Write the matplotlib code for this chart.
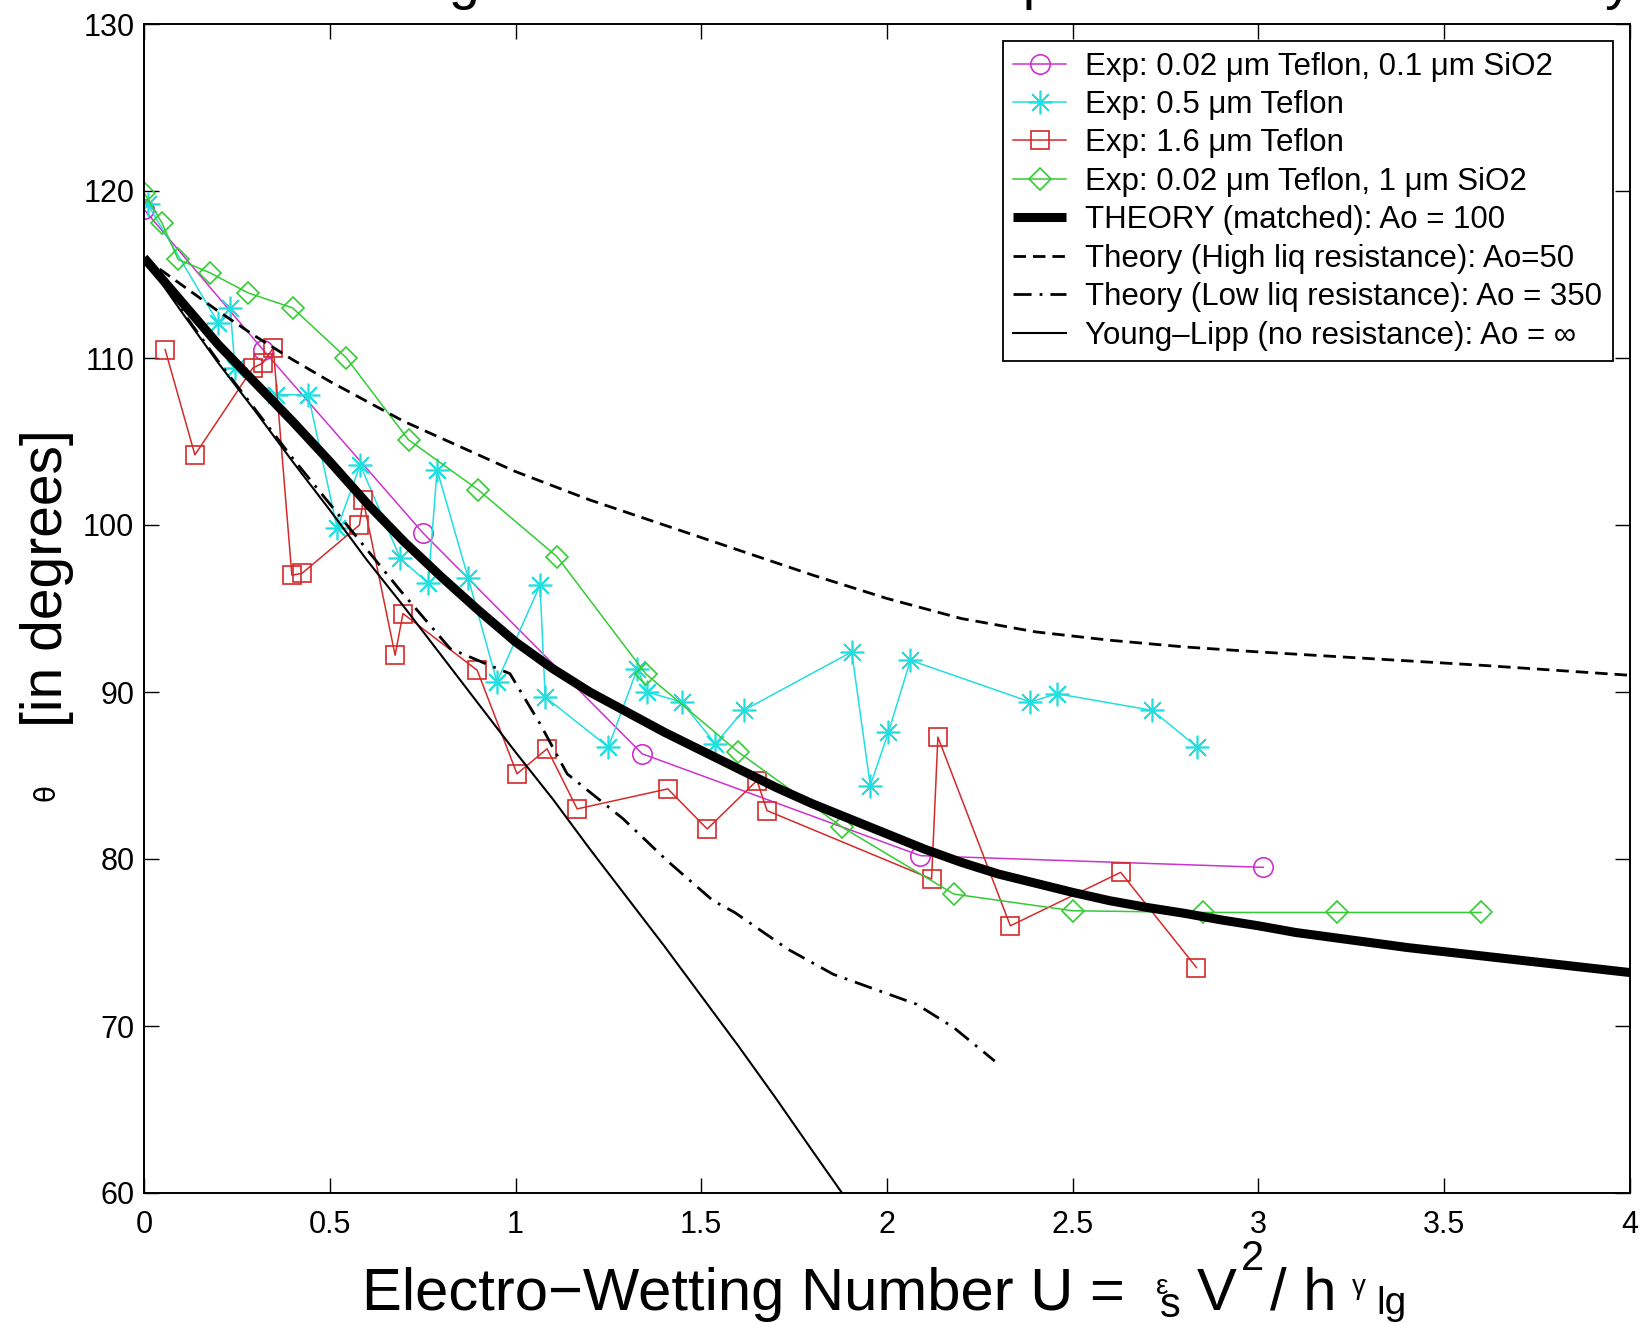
import matplotlib
matplotlib.use("Agg")
import matplotlib.pyplot as plt

# ---------------- data ----------------
mag_x = [0.0, 0.32, 0.752, 1.341, 2.09, 3.013]
mag_y = [118.9, 110.5, 99.5, 86.3, 80.2, 79.5]

cyan_x = [0.01, 0.2, 0.232, 0.245, 0.355, 0.442, 0.52, 0.582, 0.69, 0.765, 0.789, 0.873,
          0.95, 1.066, 1.08, 1.25, 1.328, 1.354, 1.447, 1.538, 1.614, 1.905, 1.955,
          2.004, 2.063, 2.386, 2.457, 2.714, 2.835]
cyan_y = [119.2, 112.1, 113.0, 109.4, 107.8, 107.8, 99.8, 103.6, 98.0, 96.5, 103.3, 96.8,
          90.6, 96.4, 89.7, 86.7, 91.4, 90.0, 89.4, 86.9, 88.9, 92.4, 84.4,
          87.6, 91.9, 89.4, 89.9, 88.9, 86.7]

red_x = [0.057, 0.137, 0.293, 0.32, 0.348, 0.398, 0.425, 0.58, 0.59, 0.676, 0.697, 0.897,
         1.004, 1.085, 1.166, 1.41, 1.516, 1.65, 1.677, 2.12, 2.137, 2.332, 2.629, 2.833]
red_y = [110.5, 104.2, 109.4, 109.7, 110.6, 97.0, 97.1, 100.0, 101.5, 92.2, 94.7, 91.3,
         85.1, 86.6, 83.0, 84.2, 81.8, 84.7, 82.9, 78.8, 87.3, 76.0, 79.2, 73.5]

green_x = [0.0, 0.048, 0.092, 0.178, 0.28, 0.40, 0.545, 0.712, 0.9, 1.112, 1.35, 1.6,
           1.88, 2.18, 2.5, 2.85, 3.21, 3.6]
green_y = [119.9, 118.1, 115.9, 115.1, 113.9, 113.0, 110.0, 105.1, 102.1, 98.1, 91.1, 86.4,
           81.9, 77.9, 76.9, 76.8, 76.8, 76.8]

# THEORY (matched), Ao = 100
theory_x = [0.0, 0.1, 0.2, 0.3, 0.4, 0.5, 0.6, 0.7, 0.8, 0.9, 1.0, 1.1, 1.2, 1.3, 1.4,
            1.5, 1.6, 1.7, 1.8, 1.9, 2.0, 2.1, 2.2, 2.3, 2.4, 2.5, 2.6, 2.7, 2.8, 2.9,
            3.0, 3.1, 3.2, 3.3, 3.4, 3.5, 3.6, 3.7, 3.8, 3.9, 4.0]
theory_y = [116.0, 113.4, 110.8, 108.5, 106.2, 103.8, 101.3, 99.0, 96.9, 94.9, 93.0, 91.4,
            90.0, 88.8, 87.6, 86.5, 85.4, 84.3, 83.3, 82.4, 81.5, 80.6, 79.8, 79.1, 78.55,
            78.0, 77.5, 77.1, 76.75, 76.35, 76.0, 75.6, 75.3, 75.0, 74.7, 74.45, 74.2,
            73.95, 73.7, 73.45, 73.2]

# Theory (high liquid resistance), Ao = 50
high_x = [0.0, 0.1, 0.2, 0.3, 0.4, 0.5, 0.6, 0.7, 0.8, 0.9, 1.0, 1.2, 1.4, 1.6, 1.8,
          2.0, 2.2, 2.4, 2.6, 2.8, 3.0, 3.3, 3.6, 4.0]
high_y = [116.0, 114.4, 112.8, 111.3, 109.9, 108.6, 107.4, 106.2, 105.2, 104.2, 103.2,
          101.5, 100.0, 98.5, 97.0, 95.6, 94.4, 93.6, 93.1, 92.7, 92.4, 92.0, 91.6, 91.0]

# Theory (low liquid resistance), Ao = 350
low_x = [0.0, 0.2, 0.4, 0.55, 0.689, 0.824, 0.93, 0.985, 1.066, 1.139, 1.29, 1.408,
         1.532, 1.59, 1.733, 1.855, 1.98, 2.08, 2.18, 2.29]
low_y = [116.0, 109.8, 104.0, 99.9, 96.1, 92.6, 91.6, 91.1, 88.1, 85.1, 82.4, 79.9,
         77.5, 76.8, 74.6, 73.1, 72.1, 71.3, 69.9, 67.9]

# Young-Lipp (no resistance)
yl_x = [0.0, 0.1, 0.2, 0.3, 0.4, 0.5, 0.6, 0.7, 0.8, 0.9, 1.0, 1.1, 1.2, 1.3, 1.4, 1.5,
        1.6, 1.7, 1.8, 1.879]
yl_y = [116.0, 112.8, 109.7, 106.8, 103.8, 100.9, 97.9, 95.1, 92.2, 89.3, 86.4, 83.6,
        80.6, 77.7, 74.8, 71.8, 68.8, 65.7, 62.5, 60.0]

labels = ["Exp: 0.02 \u03bcm Teflon, 0.1 \u03bcm SiO2",
          "Exp: 0.5 \u03bcm Teflon",
          "Exp: 1.6 \u03bcm Teflon",
          "Exp: 0.02 \u03bcm Teflon, 1 \u03bcm SiO2",
          "THEORY (matched): Ao = 100",
          "Theory (High liq resistance): Ao=50",
          "Theory (Low liq resistance): Ao = 350",
          "Young\u2013Lipp (no resistance): Ao = \u221e"]

xticks = [0, 0.5, 1, 1.5, 2, 2.5, 3, 3.5, 4]
xtick_labels = ["0", "0.5", "1", "1.5", "2", "2.5", "3", "3.5", "4"]
yticks = [60, 70, 80, 90, 100, 110, 120, 130]
ytick_labels = ["60", "70", "80", "90", "100", "110", "120", "130"]

# ---------------- figure ----------------
FW, FH = 1646, 1323
plt.rcParams['font.family'] = ['Liberation Sans', 'DejaVu Sans']

fig = plt.figure(figsize=(FW / 100, FH / 100), dpi=100)
fig.patch.set_facecolor('white')


def fx(px):
    return px / FW


def fy(py):
    return 1 - py / FH


ax = fig.add_axes([fx(144), fy(1193), (1630 - 144) / FW, (1193 - 24) / FH])

c_mag = '#cc33cc'
c_cyan = '#22dede'
c_red = '#d42a2a'
c_green = '#33cc33'

ax.plot(mag_x, mag_y, color=c_mag, lw=1.1, marker='o', ms=14, mfc='none', mec=c_mag, mew=1.2,
        label=labels[0])
ax.plot(cyan_x, cyan_y, color=c_cyan, lw=1.1, marker=(8, 2, 0), ms=17, mec=c_cyan, mew=1.2,
        label=labels[1])
ax.plot(red_x, red_y, color=c_red, lw=1.1, marker='s', ms=13, mfc='none', mec=c_red, mew=1.2,
        label=labels[2])
ax.plot(green_x, green_y, color=c_green, lw=1.1, marker='D', ms=11.5, mfc='none', mec=c_green,
        mew=1.2, label=labels[3])
ax.plot(theory_x, theory_y, color='black', lw=6.5, solid_capstyle='butt',
        solid_joinstyle='round', label=labels[4])
ax.plot(high_x, high_y, color='black', lw=2.0, dashes=(4.5, 2.5), label=labels[5])
ax.plot(low_x, low_y, color='black', lw=2.0, dashes=(6.5, 2.9, 1.0, 2.9), label=labels[6])
ax.plot(yl_x, yl_y, color='black', lw=1.5, label=labels[7])

ax.set_xlim(0, 4)
ax.set_ylim(60, 130)
ax.set_xticks(xticks)
ax.set_xticklabels(xtick_labels)
ax.set_yticks(yticks)
ax.set_yticklabels(ytick_labels)
ax.tick_params(direction='in', length=11, width=1.0, labelsize=22, top=True, right=True)
ax.tick_params(axis='x', pad=12)
ax.tick_params(axis='y', pad=7)
for sp in ax.spines.values():
    sp.set_linewidth(1.4)

leg = ax.legend(loc='upper right', fontsize=22.5, frameon=True, fancybox=False,
                edgecolor='black', framealpha=1, handlelength=1.7, handletextpad=0.62,
                labelspacing=0.27, borderpad=0.33, borderaxespad=0.55)
leg.get_frame().set_linewidth(1.3)

# y label: small theta + "[in degrees]"
fig.text(fx(47), fy(578), "[in degrees]", rotation=90, fontsize=41, ha='center', va='center')
fig.text(fx(47), fy(793), "\u03b8", rotation=90, fontsize=20, ha='center', va='center',
         family=['DejaVu Sans'])

# x label built from pieces (baselines in pixels)
fig.text(fx(362), fy(1310), "Electro\u2212Wetting Number U =", fontsize=43,
         ha='left', va='baseline')
fig.text(fx(1156), fy(1294), "\u03b5", fontsize=20, ha='left', va='baseline')
fig.text(fx(1160), fy(1317), "s", fontsize=30, ha='left', va='baseline')
fig.text(fx(1197), fy(1310), "V", fontsize=43, ha='left', va='baseline')
fig.text(fx(1241), fy(1270), "2", fontsize=30, ha='left', va='baseline')
fig.text(fx(1270), fy(1310), "/ h", fontsize=43, ha='left', va='baseline')
fig.text(fx(1352), fy(1294), "\u03b3", fontsize=20, ha='left', va='baseline')
fig.text(fx(1376), fy(1314), "lg", fontsize=28, ha='left', va='baseline')

# title, mostly cut off by the top edge of the figure (as in the reference)
fig.text(fx(905), fy(-2), "Contact Angle vs Electric Field: Experiments versus Theory",
         fontsize=40, ha='center', va='baseline')

fig.savefig("out.png", dpi=100, facecolor='white')
